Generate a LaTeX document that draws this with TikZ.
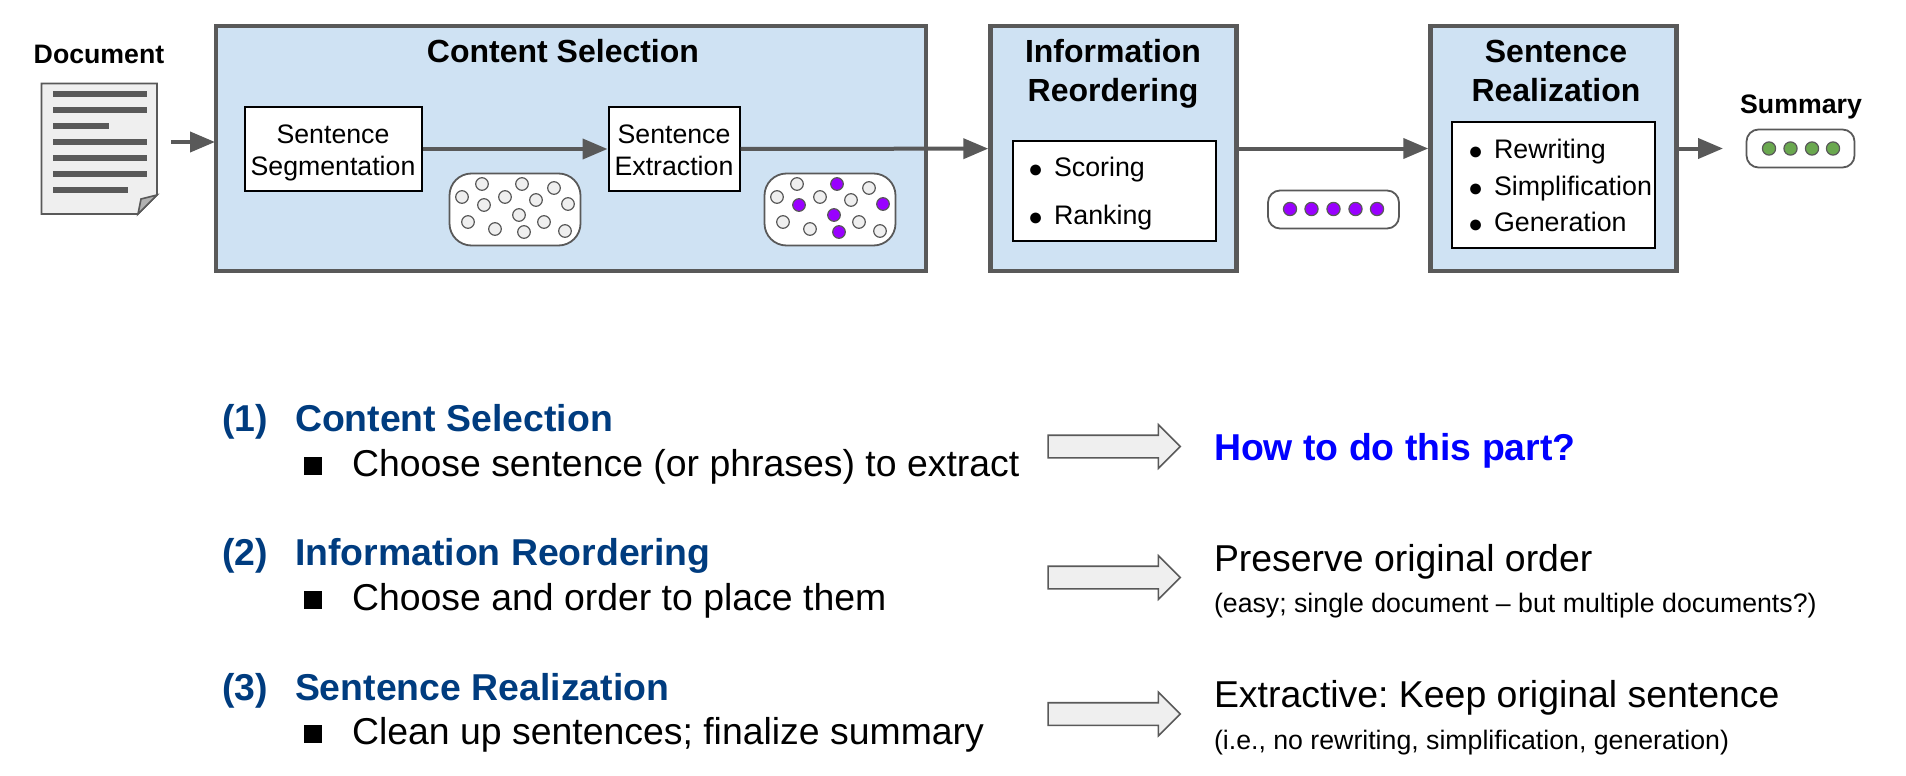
\documentclass[tikz,border=0pt]{standalone}
\usepackage{fontspec}
\setmainfont{Liberation Sans}
\usetikzlibrary{arrows.meta,shapes.arrows}

\definecolor{stagefill}{HTML}{CFE2F3}
\definecolor{stageline}{HTML}{595959}
\definecolor{headblue}{HTML}{003C7F}
\definecolor{dotgray}{HTML}{EFEFEF}
\definecolor{dotpurple}{HTML}{9900FF}
\definecolor{dotgreen}{HTML}{6AA84F}

\newcommand{\dotitem}{\makebox[26pt][l]{\fontsize{25}{25}\selectfont\raisebox{-1pt}{●}}}
\newcommand{\boxstrut}{\rule{0pt}{30pt}}

\tikzset{
    stage/.style={draw=stageline, line width=4.5, fill=stagefill, inner sep=0},
    whitebox/.style={draw=black, line width=2, fill=white, inner sep=0},
    pill/.style={draw=stageline, line width=1.8, fill=white, rounded corners=12, inner sep=0},
    bigpill/.style={pill, rounded corners=22},
    flow/.style={draw=stageline, line width=4, -{Triangle[length=25,width=20]}},
    title/.style={font=\bfseries\fontsize{32}{39}\selectfont, align=center},
    smalltitle/.style={font=\bfseries\fontsize{26.7}{32}\selectfont},
    boxtext/.style={font=\fontsize{26.7}{32}\selectfont, align=center},
    itemtext/.style={font=\fontsize{26.8}{32}\selectfont, anchor=base west},
    rowhead/.style={font=\bfseries\fontsize{37.4}{44}\selectfont, text=headblue, anchor=base west},
    rowtext/.style={font=\fontsize{37.4}{44}\selectfont, anchor=base west},
    rownote/.style={font=\fontsize{26.7}{32}\selectfont, anchor=base west},
    bigarrow/.style={single arrow, draw=stageline, line width=1.6, fill=dotgray, inner sep=0, inner ysep=10.5,
        minimum height=132, single arrow head extend=10.5, single arrow head indent=0},
    square/.style={fill=black, inner sep=0, minimum size=18}
}

\begin{document}
\frenchspacing
\begin{tikzpicture}[x=1pt, y=-1pt]
    \useasboundingbox (0,0) rectangle (1906,776);

    %stages
    \node[stage, minimum width=710, minimum height=244.5] (content) at (571,148.5) {};
    \node[stage, minimum width=246, minimum height=244.5] (info) at (1113.5,148.5) {};
    \node[stage, minimum width=246, minimum height=244.5] (real) at (1553.5,148.5) {};

    \node[title] (contenttitle) at (563,51) {Content Selection};
    \node[title] (infotitle) at (1113,73.5) {Information\\Reordering};
    \node[title] (realtitle) at (1556,71) {Sentence\\Realization};

    %boxes inside the stages
    \node[whitebox, boxtext, minimum width=177, minimum height=84] (seg) at (333,149) {\boxstrut Sentence\\\strut Segmentation};
    \node[whitebox, boxtext, minimum width=131, minimum height=84] (ext) at (674,149) {\boxstrut Sentence\\\strut Extraction};
    \node[whitebox, minimum width=203, minimum height=100] (rank) at (1114,190.5) {};
    \node[whitebox, minimum width=203, minimum height=126] (edit) at (1553.5,185) {};

    \node[itemtext] (scoring) at (1024.5,176) {\dotitem Scoring};
    \node[itemtext] (ranking) at (1024.5,224) {\dotitem Ranking};
    \node[itemtext] (rewriting) at (1464.5,158) {\dotitem Rewriting};
    \node[itemtext] (simplification) at (1464.5,195) {\dotitem Simplification};
    \node[itemtext] (generation) at (1464.5,231) {\dotitem Generation};

    %document
    \node[smalltitle] (document) at (99,54) {Document};
    \filldraw[draw=stageline, fill=dotgray, line width=1.6]
        (41.5,83.5) -- (157,83.5) -- (157,195) -- (138,214) -- (41.5,214) -- cycle;
    \filldraw[draw=stageline, fill=black!30, line width=1.6]
        (138,214) -- (141,199) -- (157,195) -- cycle;
    \foreach \y/\x in {94/147,110/147,126/109,142/147,158/147,174/147,190/128}
    {
        \fill[stageline] (53,\y-3) rectangle (\x,\y+3);
    }

    %sentence sets
    \node[bigpill, minimum width=131, minimum height=72] (setall) at (515,209.5) {};
    \node[bigpill, minimum width=131, minimum height=72] (setsome) at (830,209.5) {};
    \node[pill, minimum width=131, minimum height=38] (setorder) at (1333.5,209.5) {};
    \node[smalltitle] (summary) at (1801,107) {Summary};
    \node[pill, minimum width=108, minimum height=38] (setfinal) at (1800.5,148.5) {};

    \foreach \x/\y/\c in {482/184/dotgray,522/184/dotpurple,554/188/dotgray,462/197/dotgray,
        505/197/dotgray,484/205/dotpurple,536/200/dotgray,568/204/dotpurple,519/215/dotpurple,
        468/222/dotgray,544/222/dotgray,495/229/dotgray,524/232/dotpurple,565/231/dotgray}
    {
        \filldraw[draw=stageline, fill=dotgray, line width=1.2] (\x,\y) circle (6.3);
        \filldraw[draw=stageline, fill=\c, line width=1.2] (\x+315,\y) circle (6.3);
    }
    \foreach \x in {1290,1311.5,1333.5,1355.5,1377}
    {
        \filldraw[draw=stageline, fill=dotpurple, line width=1.2] (\x,209) circle (6.6);
    }
    \foreach \x in {1769,1790.5,1812,1833}
    {
        \filldraw[draw=stageline, fill=dotgreen, line width=1.2] (\x,148.5) circle (6.6);
    }

    %flow along the top
    \coordinate (docout) at (171,142);
    \coordinate (contentin) at (215,142);
    \coordinate (summaryin) at (1723,148.5);
    \draw[flow] (docout) -- (contentin);
    \draw[flow] (seg) -- (ext);
    \draw[flow] (ext) -- (info);
    \draw[flow] (info) -- (real);
    \draw[flow] (real) -- (summaryin);

    %the three rows below
    \foreach \i/\j/\k/\h/\t in {1/431/476/Content Selection/Choose sentence (or phrases) to extract,
        2/565/610/Information Reordering/Choose and order to place them,
        3/700/744/Sentence Realization/Clean up sentences; finalize summary}
    {
        \node[rowhead] (num\i) at (218.5,\j) {(\i)};
        \node[rowhead] (head\i) at (291.5,\j) {\h};
        \node[square] (mark\i) at (313,\k-10) {};
        \node[rowtext] (text\i) at (348.5,\k) {\t};
    }
    \node[bigarrow] (arrow1) at (1108.5,446.5) {};
    \node[bigarrow] (arrow2) at (1108.5,577.5) {};
    \node[bigarrow] (arrow3) at (1108.5,714) {};

    \node[rowhead, text=blue] (answer1) at (1210.5,460) {How to do this part?};
    \node[rowtext] (answer2) at (1210.5,571) {Preserve original order};
    \node[rownote] (note2) at (1210.5,612) {(easy; single document -- but multiple documents?)};
    \node[rowtext] (answer3) at (1210.5,707) {Extractive: Keep original sentence};
    \node[rownote] (note3) at (1210.5,749) {(i.e., no rewriting, simplification, generation)};
\end{tikzpicture}
\end{document}
